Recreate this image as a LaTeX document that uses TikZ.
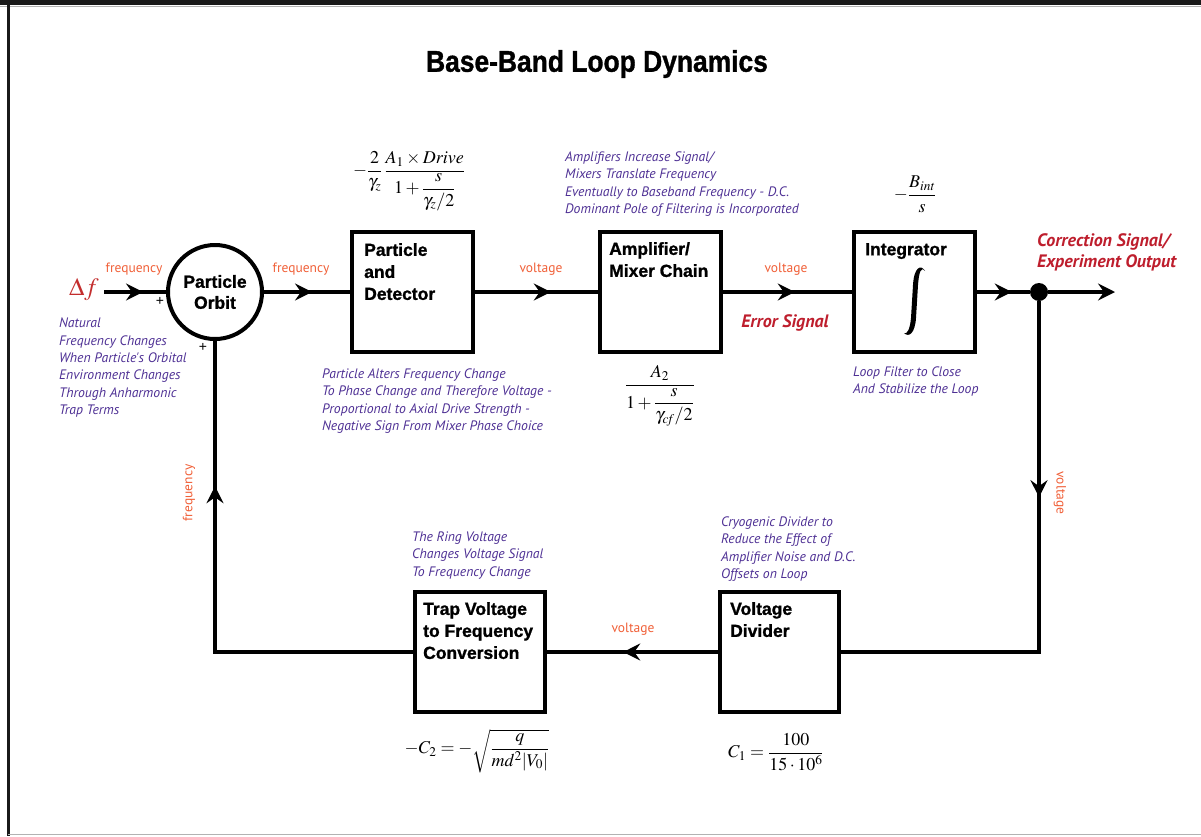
\documentclass[tikz,border=0pt]{standalone}
\usepackage{amsmath}
\usepackage{mathptmx}
\usepackage[no-math]{fontspec}
\usetikzlibrary{arrows.meta,decorations.markings}
\newfontfamily\boxfont{Liberation Sans}[FakeBold=1.2]
\newfontfamily\plainsans{Liberation Sans}
\newfontfamily\annfont{PT Sans}
\definecolor{ann}{RGB}{78,48,148}
\definecolor{lbl}{RGB}{240,95,55}
\definecolor{sig}{RGB}{190,30,45}
\definecolor{dfred}{RGB}{195,45,45}
\tikzset{
  flowtip/.tip={Stealth[length=17pt,width=17pt,inset=6pt]},
  flow/.style={line width=3.2pt},
  arrowat/.style={postaction={decorate},decoration={markings,mark=at position #1 with {\arrow{flowtip}}}},
  blk/.style={draw,line width=3.5pt,minimum height=120pt,inner sep=0pt},
  boxtxt/.style={anchor=north west,align=left,inner sep=0pt,font=\boxfont\bfseries\fontsize{17.5}{22}\selectfont},
  anntxt/.style={anchor=north west,align=left,inner sep=0pt,text=ann,font=\annfont\itshape\fontsize{13.7}{17.3}\selectfont},
  lbltxt/.style={inner sep=0pt,text=lbl,font=\annfont\fontsize{13.5}{15}\selectfont},
  sigtxt/.style={inner sep=0pt,text=sig,font=\annfont\bfseries\itshape\fontsize{18}{21}\selectfont},
  formula/.style={inner sep=0pt,font=\fontsize{18}{22}\selectfont},
  plus/.style={inner sep=0pt,font=\plainsans\fontsize{14}{14}\selectfont},
}
\begin{document}
\begin{tikzpicture}[x=1pt,y=-1pt]
\useasboundingbox (0,0) rectangle (1201,836);
% frame
\fill[black!90] (0,0) rectangle (1201,5);
\draw[black!30,line width=1pt] (0,6.5) -- (1201,6.5);
\draw[black!90,line width=3pt] (8,0) -- (8,836);
\draw[black!30,line width=1pt] (8,834) -- (1201,834);
% title
\node[inner sep=0pt,font=\boxfont\bfseries\fontsize{30}{36}\selectfont] (title) at (597,64) {\scalebox{0.88}[1]{Base-Band Loop Dynamics}};
% blocks
\node[circle,draw,line width=4pt,minimum size=94pt,inner sep=0pt,align=center,font=\boxfont\bfseries\fontsize{17.5}{21}\selectfont] (po) at (215,292) {Particle\\Orbit};
\node[blk,minimum width=121pt] (b1) at (412.5,292) {};
\node[blk,minimum width=121pt] (b2) at (660.5,292) {};
\node[blk,minimum width=121pt] (b3) at (914.5,292) {};
\node[blk,minimum width=130pt] (tv) at (480,652) {};
\node[blk,minimum width=119pt] (vd) at (779.5,652) {};
\node[boxtxt] (b1t) at (364,243) {Particle\\and\\Detector};
\node[boxtxt] (b2t) at (609,242) {Amplifier/\\Mixer Chain};
\node[boxtxt] (b3t) at (865,243) {Integrator};
% integral sign
\fill (925,271) .. controls (921,264) and (914,267) .. (913,285)
  -- (911,318) .. controls (910,329) and (907,335) .. (904,333)
  .. controls (909,338) and (915,333) .. (916,318)
  -- (918,285) .. controls (919,272) and (921,266) .. (925,271) -- cycle;
\node[boxtxt] (tvt) at (423,602) {Trap Voltage\\to Frequency\\Conversion};
\node[boxtxt] (vdt) at (730,602) {Voltage\\Divider};
\node[circle,fill,inner sep=0pt,minimum size=18pt] (dot) at (1039,292) {};
% coordinates
\coordinate (in) at (104,292);
\coordinate (out) at (1115,292);
\coordinate (cR) at (1039,652);
\coordinate (cL) at (215,652);
% connectors
\draw[flow,arrowat=39pt] (in) -- (po);
\draw[flow,arrowat=48pt] (po) -- (b1);
\draw[flow,arrowat=76pt] (b1) -- (b2);
\draw[flow,arrowat=72pt] (b2) -- (b3);
\draw[flow,arrowat=35pt] (b3) -- (dot);
\draw[flow,-{flowtip}] (dot) -- (out);
\draw[flow,arrowat=196pt] (dot) -- (cR) -- (vd);
\draw[flow,arrowat=95pt] (vd) -- (tv);
\draw[flow,arrowat=364pt] (tv) -- (cL) -- (po);
% signal labels
\node[inner sep=0pt,text=dfred,font=\fontsize{25}{25}\selectfont] (df) at (84,290) {$\Delta f$};
\node[lbltxt] (l1) at (134,269) {frequency};
\node[lbltxt] (l2) at (301,269) {frequency};
\node[lbltxt] (l3) at (541,269) {voltage};
\node[lbltxt] (l4) at (786,269) {voltage};
\node[lbltxt,rotate=-90] (l5) at (1060,493) {voltage};
\node[lbltxt] (l6) at (633,629) {voltage};
\node[lbltxt,rotate=90] (l7) at (189,493) {frequency};
\node[plus] (p1) at (160,301) {+};
\node[plus] (p2) at (203,347) {+};
\node[sigtxt] (err) at (785,323) {Error Signal};
\node[sigtxt,anchor=north west,align=left] (corr) at (1037,233) {Correction Signal/\\Experiment Output};
% annotations
\node[anntxt] (a0) at (59,318) {Natural\\Frequency Changes\\When Particle's Orbital\\Environment Changes\\Through Anharmonic\\Trap Terms};
\node[anntxt] (a1) at (322,368.5) {Particle Alters Frequency Change\\To Phase Change and Therefore Voltage -\\Proportional to Axial Drive Strength -\\Negative Sign From Mixer Phase Choice};
\node[anntxt] (a2) at (565,151.5) {Amplifiers Increase Signal/\\Mixers Translate Frequency\\Eventually to Baseband Frequency - D.C.\\Dominant Pole of Filtering is Incorporated};
\node[anntxt] (a3) at (853,366.5) {Loop Filter to Close\\And Stabilize the Loop};
\node[anntxt] (a4) at (412,531.5) {The Ring Voltage\\Changes Voltage Signal\\To Frequency Change};
\node[anntxt] (a5) at (721,516.5) {Cryogenic Divider to\\Reduce the Effect of\\Amplifier Noise and D.C.\\Offsets on Loop};
% formulas
\node[formula] (f1) at (409,181) {$-\dfrac{2}{\gamma_z}\,\dfrac{A_1\times \mathit{Drive}}{1+\dfrac{s}{\gamma_z/2}}$};
\node[formula] (f2) at (915,194) {$-\dfrac{B_{\mathit{int}}}{s}$};
\node[formula] (f3) at (660,396) {$\dfrac{A_2}{1+\dfrac{s}{\gamma_{\mathit{cf}}/2}}$};
\node[formula] (f4) at (477,751) {$-C_2=-\sqrt{\dfrac{q}{md^2\lvert V_0\rvert}}$};
\node[formula] (f5) at (776,752) {$C_1=\dfrac{100}{15\cdot 10^6}$};
\end{tikzpicture}
\end{document}
